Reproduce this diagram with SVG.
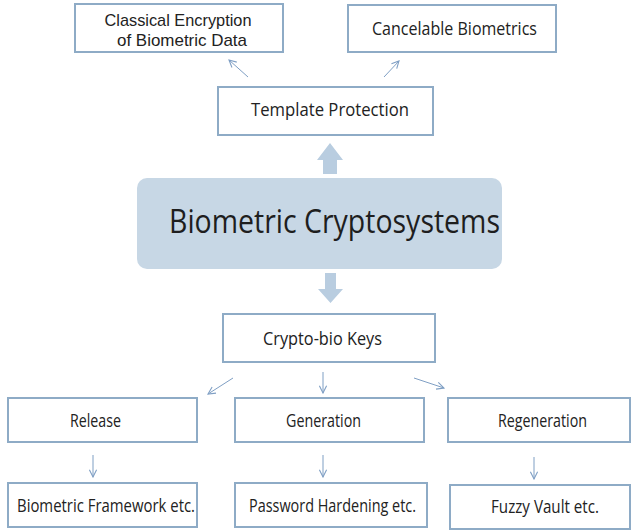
<svg xmlns="http://www.w3.org/2000/svg" width="631" height="531" viewBox="0 0 631 531">
  <defs>
    <marker id="head" viewBox="0 0 10 10" refX="9" refY="5" markerWidth="9" markerHeight="9" markerUnits="userSpaceOnUse" orient="auto">
      <path d="M1,1 L9,5 L1,9" fill="none" stroke="#7f9fc4" stroke-width="1.2"/>
    </marker>
  </defs>
  <style>
    .box { fill: #ffffff; stroke: #8eabc6; stroke-width: 2; }
    .lbl { font-family: "Open Sans", "DejaVu Sans", sans-serif; font-size: 18px; fill: #222222; text-anchor: middle; }
    .two { font-family: "Liberation Sans", "Open Sans", sans-serif; font-size: 17px; }
    .big { font-family: "Open Sans", "DejaVu Sans", sans-serif; font-size: 32px; fill: #1e1e1e; text-anchor: middle; }
    .thin { stroke: #7f9fc4; stroke-width: 1; fill: none; marker-end: url(#head); }
    .fat { fill: #b9cde0; stroke: none; }
  </style>
  <rect width="631" height="531" fill="#ffffff"/>

  <g id="connectors">
    <line class="thin" x1="248" y1="77" x2="229" y2="60"/>
    <line class="thin" x1="384" y1="77" x2="399" y2="61"/>
    <path class="fat" d="M323,174 L323,160 L317,160 L330,143 L343,160 L337,160 L337,174 Z"/>
    <path class="fat" d="M325,273 L325,289 L318,289 L330.5,303 L343,289 L336,289 L336,273 Z"/>
    <line class="thin" x1="233" y1="378" x2="208" y2="394"/>
    <line class="thin" x1="323" y1="372" x2="323" y2="393"/>
    <line class="thin" x1="414" y1="378" x2="444" y2="388"/>
    <line class="thin" x1="93" y1="455" x2="93" y2="477"/>
    <line class="thin" x1="323" y1="455" x2="323" y2="477"/>
    <line class="thin" x1="534" y1="457" x2="534" y2="479"/>
  </g>

  <g id="classical">
    <rect class="box" x="75" y="4" width="208" height="48"/>
    <text class="lbl two" x="178" y="26" textLength="147" lengthAdjust="spacingAndGlyphs">Classical Encryption</text>
    <text class="lbl two" x="182" y="46" textLength="130" lengthAdjust="spacingAndGlyphs">of Biometric Data</text>
  </g>
  <g id="cancelable">
    <rect class="box" x="348" y="5" width="208" height="47"/>
    <text class="lbl" x="454.5" y="35" textLength="165" lengthAdjust="spacingAndGlyphs">Cancelable Biometrics</text>
  </g>
  <g id="template">
    <rect class="box" x="218" y="87" width="215" height="48"/>
    <text class="lbl" x="330" y="116" textLength="158" lengthAdjust="spacingAndGlyphs">Template Protection</text>
  </g>
  <g id="core">
    <rect x="137" y="178" width="365" height="91" rx="10" ry="10" fill="#c7d7e5"/>
    <text class="big" x="334.5" y="233" textLength="331" lengthAdjust="spacingAndGlyphs">Biometric Cryptosystems</text>
  </g>
  <g id="keys">
    <rect class="box" x="223" y="314" width="212" height="48"/>
    <text class="lbl" x="322.5" y="345" textLength="119" lengthAdjust="spacingAndGlyphs">Crypto-bio Keys</text>
  </g>
  <g id="release">
    <rect class="box" x="8" y="398" width="189" height="44"/>
    <text class="lbl" x="95.5" y="427" textLength="51" lengthAdjust="spacingAndGlyphs">Release</text>
  </g>
  <g id="generation">
    <rect class="box" x="235" y="398" width="189" height="44"/>
    <text class="lbl" x="323.5" y="427" textLength="75" lengthAdjust="spacingAndGlyphs">Generation</text>
  </g>
  <g id="regeneration">
    <rect class="box" x="448" y="398" width="182" height="44"/>
    <text class="lbl" x="542.5" y="427" textLength="89" lengthAdjust="spacingAndGlyphs">Regeneration</text>
  </g>
  <g id="framework">
    <rect class="box" x="8" y="483" width="189" height="44"/>
    <text class="lbl" x="106" y="512" textLength="178" lengthAdjust="spacingAndGlyphs">Biometric Framework etc.</text>
  </g>
  <g id="hardening">
    <rect class="box" x="235" y="483" width="192" height="44"/>
    <text class="lbl" x="332.5" y="512" textLength="167" lengthAdjust="spacingAndGlyphs">Password Hardening etc.</text>
  </g>
  <g id="fuzzy">
    <rect class="box" x="450" y="485" width="180" height="44"/>
    <text class="lbl" x="545" y="513" textLength="108" lengthAdjust="spacingAndGlyphs">Fuzzy Vault etc.</text>
  </g>
</svg>
